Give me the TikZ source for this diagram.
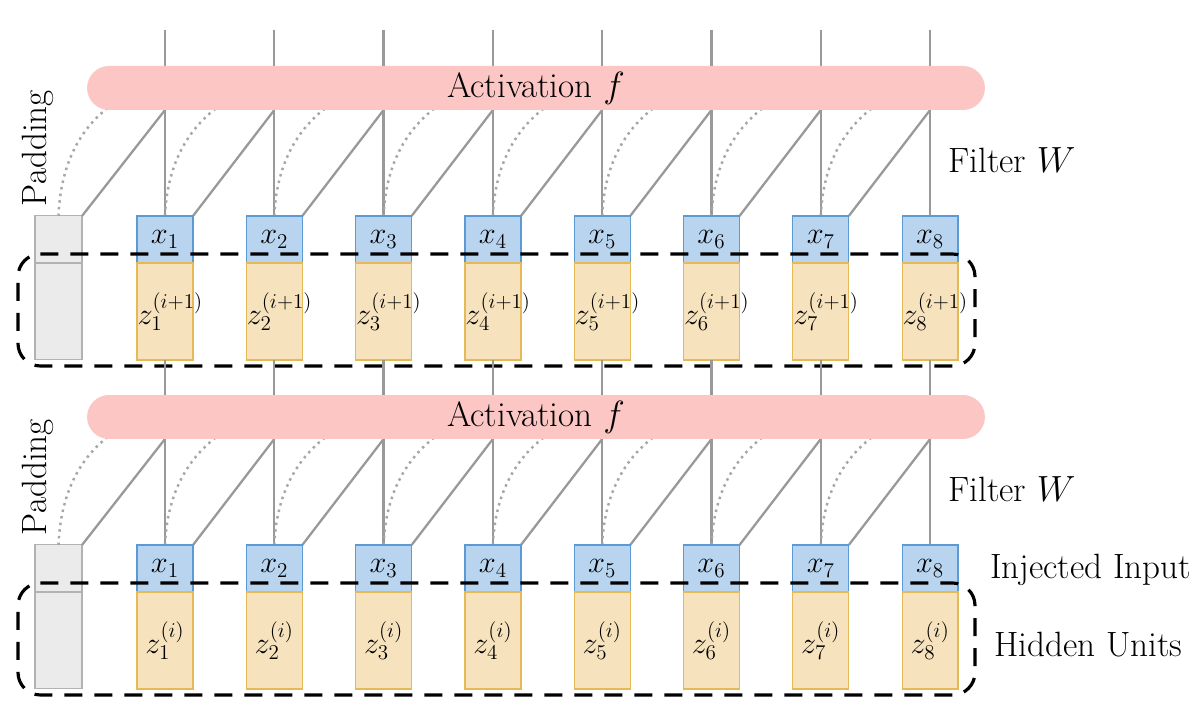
\documentclass[tikz,border=0pt]{standalone}
\usetikzlibrary{calc}
\definecolor{barc}{RGB}{252,198,196}
\definecolor{xfill}{RGB}{184,212,239}
\definecolor{xdraw}{RGB}{90,155,213}
\definecolor{zfill}{RGB}{246,226,189}
\definecolor{zdraw}{RGB}{229,185,85}
\begin{document}
\begin{tikzpicture}[x=0.02cm,y=-0.02cm,
  bar/.style={fill=barc,draw=none,rounded corners=0.44cm,minimum width=17.96cm,minimum height=0.88cm,inner sep=0pt,font=\fontsize{20}{24}\selectfont},
  xbox/.style={fill=xfill,draw=xdraw,line width=0.7pt,minimum width=1.12cm,text width=1.1cm,align=center,minimum height=0.94cm,inner sep=0pt,font=\fontsize{18}{22}\selectfont},
  zbox/.style={fill=zfill,draw=zdraw,line width=0.7pt,minimum width=1.12cm,text width=1.1cm,align=center,minimum height=1.94cm,inner sep=0pt,font=\fontsize{18}{22}\selectfont},
  padbox/.style={fill=black!8,draw=black!30,line width=0.8pt,minimum width=0.94cm,inner sep=0pt},
  wire/.style={draw=black!40,line width=1.3pt},
  dotwire/.style={draw=black!35,line width=1.4pt,dash pattern=on 1.4pt off 2.4pt},
  group/.style={draw=black,line width=1.8pt,dash pattern=on 0.36cm off 0.24cm,rounded corners=0.45cm},
  lbl/.style={font=\fontsize{20}{24}\selectfont}]
\useasboundingbox (0,0) rectangle (1200,722);
\fill[white] (0,0) rectangle (1200,722);
\foreach \L/\bt/\top/\sup in {T/0/30/{(i+1)},B/329/360/{(i)}}{
  \begin{scope}[yshift={-0.02cm*\bt}]
    \node[padbox,minimum height=2.88cm] (p\L) at (58.5,287.5) {};
    \draw[black!30,line width=0.8pt] (p\L.west |- 0,263) -- (p\L.east |- 0,263);
    \foreach \i in {1,...,8}{
      \pgfmathsetmacro{\cx}{165+(\i-1)*109.3}
      \coordinate (t\L\i) at (\cx,\top-\bt);
      \coordinate (a\L\i) at (\cx,110);
      \draw[wire] (t\L\i) -- (\cx,216);
    }
    \coordinate (sc\L0) at (58.5,216);
    \coordinate (sr\L0) at (82,216);
    \foreach \i in {1,...,7}{
      \pgfmathsetmacro{\cx}{165+(\i-1)*109.3}
      \coordinate (sc\L\i) at (\cx,216);
      \coordinate (sr\L\i) at (\cx+28,216);
    }
    \foreach \i in {0,...,7}{
      \pgfmathtruncatemacro{\j}{\i+1}
      \draw[dotwire] (sc\L\i) .. controls ($(sc\L\i)+(3,-70)$) and ($(a\L\j)+(-70,-5)$) .. ($(a\L\j)+(-15,-25)$);
      \draw[wire] (sr\L\i) -- (a\L\j);
    }
    \node[bar] (f\L) at (536,88) {Activation $f$};
    \foreach \i in {1,...,8}{
      \pgfmathsetmacro{\cx}{165+(\i-1)*109.3}
      \node[xbox] (x\L\i) at (\cx,239.5) {$x_{\i}$};
      \node[zbox] (z\L\i) at (\cx,311.5) {$z_{\i}^{\sup}$};
    }
    \node[lbl,rotate=90] (pl\L) at (38,148) {Padding};
    \node[lbl] (fw\L) at (1012,160) {Filter $W$};
    \draw[group] (18,254) -- (975,254) -- (975,366) -- (18,366) -- cycle;
  \end{scope}
}
\node[lbl,anchor=west] (inj) at (984,570) {Injected Input};
\node[lbl,anchor=west] (hid) at (988,645) {Hidden Units};
\end{tikzpicture}
\end{document}
